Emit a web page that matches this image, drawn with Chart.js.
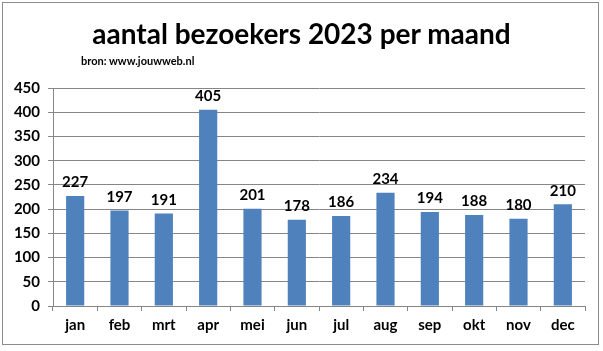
<!DOCTYPE html>
<html><head><meta charset="utf-8">
<script src="https://cdn.jsdelivr.net/npm/chart.js@4"></script>
<style>
html,body{margin:0;padding:0;background:#fff;}
#wrap{position:relative;width:603px;height:351px;overflow:hidden;}
#frame{position:absolute;left:2px;top:2px;width:597px;height:343px;border:1px solid #8c8c8c;box-sizing:border-box;}
#title{position:absolute;left:0;width:603px;top:16px;text-align:center;font:bold 28px Lato, "Open Sans", sans-serif;color:#000;}
#sub{position:absolute;left:81px;top:54px;font:bold 11px Lato, "Open Sans", sans-serif;color:#000;}
canvas{position:absolute;left:0;top:0;}
</style></head>
<body>
<div id="wrap">
<canvas id="c" width="603" height="351"></canvas>
<div id="frame"></div>
<div id="title">aantal bezoekers 2023 per maand</div>
<div id="sub">bron: www.jouwweb.nl</div>
</div>
<script>
const months = ["jan","feb","mrt","apr","mei","jun","jul","aug","sep","okt","nov","dec"];
const visitors = [227,197,191,405,201,178,186,234,194,188,180,210];
const yTicks = [0,50,100,150,200,250,300,350,400,450];

const FONT = 'Lato, "Open Sans", sans-serif';
const labelPlugin = {
  id:'vals',
  afterDatasetsDraw(chart){
    const ctx = chart.ctx;
    const meta = chart.getDatasetMeta(0);
    ctx.save();
    ctx.font = 'bold 15px ' + FONT;
    ctx.fillStyle = '#000';
    ctx.textAlign = 'center';
    ctx.textBaseline = 'bottom';
    meta.data.forEach((bar,i)=>{
      ctx.fillText(String(visitors[i]), bar.x, bar.y - 6);
    });
    ctx.restore();
  }
};

new Chart(document.getElementById('c'), {
  type:'bar',
  data:{labels:months, datasets:[{data:visitors, backgroundColor:'#4F81BD', borderWidth:0, categoryPercentage:1, barPercentage:0.41}]},
  options:{
    responsive:false, animation:false,
    layout:{padding:{top:88,right:18,left:0,bottom:0}},
    plugins:{legend:{display:false}, tooltip:{enabled:false}, title:{display:false}},
    scales:{
      x:{
        grid:{drawOnChartArea:false, drawTicks:true, tickLength:5, offset:true, color:'#868686'},
        border:{color:'#868686'},
        ticks:{font:{family:FONT, size:15, weight:'bold'}, color:'#000', padding:5},
        afterFit(s){ s.height = 45; }
      },
      y:{
        min:0, max:450,
        afterBuildTicks(s){ s.ticks = yTicks.map(v=>({value:v})); },
        grid:{color:'#868686', tickLength:5},
        border:{color:'#868686'},
        ticks:{font:{family:FONT, size:15, weight:'bold'}, color:'#000', padding:8},
        afterFit(s){ s.width = 53; }
      }
    }
  },
  plugins:[labelPlugin]
});
</script>
</body></html>
